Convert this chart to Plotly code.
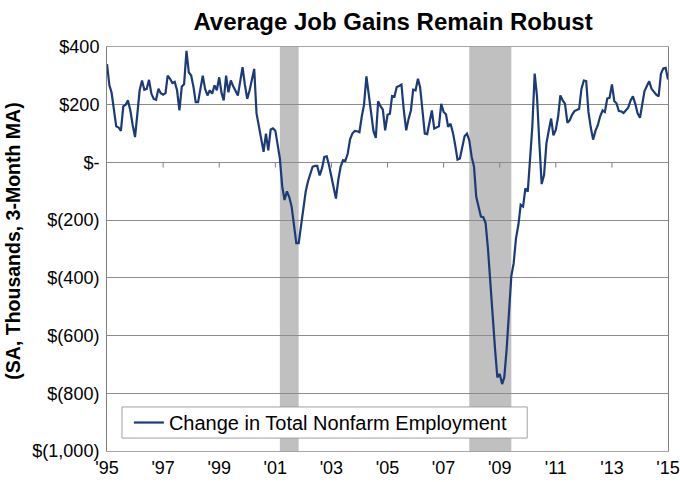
import plotly.graph_objects as go
import pandas as pd

# Monthly 3-month moving average of change in total nonfarm employment (thousands), Jan 1995 - Jan 2015
start_month = "1995-01-01"
job_change = [
    341, 267, 243, 190, 125, 121, 109, 194, 200, 215, 180, 130,   # 1995
    88, 170, 250, 284, 252, 255, 286, 238, 220, 217, 255, 240,    # 1996
    235, 240, 301, 290, 275, 279, 250, 180, 263, 271, 387, 312,   # 1997
    301, 260, 209, 209, 250, 301, 255, 232, 250, 238, 267, 250,   # 1998
    295, 240, 215, 301, 243, 284, 265, 250, 232, 280, 330, 270,   # 1999
    220, 250, 284, 324, 170, 120, 80, 37, 100, 42, 114, 118,      # 2000
    110, 60, 14, -84, -130, -100, -120, -153, -215, -280, -280, -220,  # 2001
    -150, -100, -67, -40, -15, -12, -12, -45, -20, 19, 21, -10,   # 2002
    -50, -80, -125, -60, -15, 8, 5, 30, 80, 100, 109, 108,        # 2003
    105, 160, 200, 298, 230, 169, 110, 85, 212, 195, 183, 111,    # 2004
    165, 169, 230, 228, 261, 265, 270, 180, 111, 150, 180, 252,   # 2005
    250, 290, 261, 180, 100, 98, 140, 180, 117, 120, 125, 203,    # 2006
    175, 167, 123, 134, 105, 60, 10, 14, 55, 91, 100, 77,         # 2007
    20, -15, -119, -160, -188, -190, -210, -300, -420, -560, -647, -745,  # 2008
    -733, -768, -745, -647, -521, -394, -350, -262, -216, -147, -153, -90,  # 2009
    -101, 31, 123, 308, 230, 66, -75, -44, 66, 110, 152, 94,      # 2010
    113, 160, 232, 215, 203, 137, 146, 165, 178, 182, 186, 255,   # 2011
    284, 282, 175, 120, 79, 110, 129, 160, 180, 175, 221, 224,    # 2012
    270, 212, 205, 178, 177, 171, 180, 190, 215, 229, 203, 170,   # 2013
    155, 210, 247, 265, 281, 255, 245, 235, 229, 307, 326, 328,   # 2014
    287,                                                          # 2015
]
dates = pd.date_range(start_month, periods=len(job_change), freq="MS")

# Recession periods (shaded)
recession_starts = ["2001-03-01", "2007-12-01"]
recession_ends = ["2001-11-01", "2009-06-01"]

# Axis ticks
x_tick_years = [1995, 1997, 1999, 2001, 2003, 2005, 2007, 2009, 2011, 2013, 2015]
x_tick_labels = ["'95", "'97", "'99", "'01", "'03", "'05", "'07", "'09", "'11", "'13", "'15"]
y_tick_vals = [400, 200, 0, -200, -400, -600, -800, -1000]
y_tick_labels = ["$400", "$200", "$-", "$(200)", "$(400)", "$(600)", "$(800)", "$(1,000)"]

FONT = "Liberation Sans, Arial, sans-serif"
x_tick_dates = [f"{y}-01-01" for y in x_tick_years]

fig = go.Figure()
fig.add_trace(go.Scatter(
    x=dates, y=job_change, mode="lines",
    name="Change in Total Nonfarm Employment",
    line=dict(color="#1b3a78", width=2.2),
))

shapes = []
for s, e in zip(recession_starts, recession_ends):
    shapes.append(dict(type="rect", xref="x", yref="paper", x0=s, x1=e, y0=0, y1=1,
                       fillcolor="#c0c0c0", line=dict(width=0), layer="below"))
# small tick marks on the zero line
for d in x_tick_dates[1:-1]:
    shapes.append(dict(type="line", xref="x", yref="y", x0=d, x1=d, y0=0, y1=-18,
                       line=dict(color="#808080", width=1)))
# legend frame
shapes.append(dict(type="rect", xref="paper", yref="paper", x0=0.0267, x1=0.749,
                   y0=0.032, y1=0.109, fillcolor="white",
                   line=dict(color="#a0a0a0", width=1), layer="above"))

fig.update_layout(
    width=680, height=482,
    margin=dict(l=107, r=12, t=47, b=31, autoexpand=False),
    paper_bgcolor="white", plot_bgcolor="white",
    font=dict(family=FONT, size=18, color="#000000"),
    title=dict(text="<b>Average Job Gains Remain Robust</b>", x=0.578, xanchor="center",
               y=1 - 22 / 482, yanchor="middle", font=dict(size=24, family=FONT, color="#000")),
    shapes=shapes,
    showlegend=True,
    legend=dict(x=0.039, y=0.0705, xanchor="left", yanchor="middle",
                bgcolor="rgba(0,0,0,0)", borderwidth=0,
                font=dict(size=20, family=FONT, color="#000")),
    xaxis=dict(type="date", range=["1995-01-01", "2015-01-01"],
               tickvals=x_tick_dates, ticktext=x_tick_labels,
               showgrid=False, zeroline=False, ticks="", automargin=False,
               showline=True, linecolor="#a6a6a6", linewidth=1, mirror=True,
               tickfont=dict(size=18)),
    yaxis=dict(range=[-1000, 400], tickvals=y_tick_vals, ticktext=y_tick_labels,
               showgrid=True, gridcolor="#8c8c8c", gridwidth=1,
               zeroline=False, ticks="", automargin=False, ticklabelstandoff=3,
               showline=True, linecolor="#808080", linewidth=1, mirror=True,
               tickfont=dict(size=18)),
    annotations=[dict(text="<b>(SA, Thousands, 3-Month MA)</b>", xref="paper", yref="paper",
                      x=-0.168, y=0.52, xanchor="center", yanchor="middle", textangle=-90,
                      showarrow=False, font=dict(size=19.5, family=FONT, color="#000"))],
)

fig.write_html("out.html", config={"displayModeBar": False},
               post_script="document.body.style.margin='0';document.body.style.padding='0';")
